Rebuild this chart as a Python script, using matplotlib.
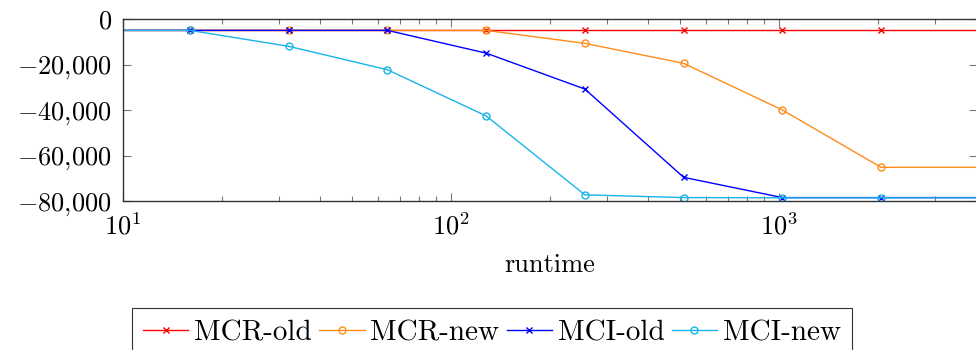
import matplotlib
matplotlib.use("Agg")
import matplotlib.pyplot as plt
from matplotlib.ticker import FuncFormatter, LogFormatterMathtext, LogLocator, FixedLocator

plt.rcParams["font.family"] = "serif"
plt.rcParams["font.serif"] = ["cmr10"]
plt.rcParams["mathtext.fontset"] = "cm"
plt.rcParams["axes.unicode_minus"] = False
plt.rcParams["axes.formatter.use_mathtext"] = True

runtime = [8, 16, 32, 64, 128, 256, 512, 1024, 2048, 4096]
mcr_old = [-5000, -5000, -5000, -5000, -5000, -5000, -5000, -5000, -5000, -5000]
mcr_new = [-5000, -5000, -5000, -5000, -5000, -10700, -19500, -40000, -65200, -65200]
mci_old = [-5000, -5000, -5000, -5000, -15000, -30800, -69600, -78500, -78500, -78500]
mci_new = [-5000, -5000, -12000, -22300, -42600, -77300, -78500, -78600, -78600, -78600]
y_ticks = [-80000, -60000, -40000, -20000, 0]

series = [
    ("MCR-old", mcr_old, "#ff0000", "x"),
    ("MCR-new", mcr_new, "#ff8c1a", "o"),
    ("MCI-old", mci_old, "#0000ff", "x"),
    ("MCI-new", mci_new, "#19b4eb", "o"),
]

fig = plt.figure(figsize=(9.76, 3.5), dpi=100)
ax = fig.add_axes([123 / 976, 1 - 201 / 350, (977 - 123) / 976, 182 / 350])

for label, vals, col, mk in series:
    ax.plot(runtime, vals, color=col, lw=1.0, marker=mk, markersize=5 if mk == "o" else 4,
            markerfacecolor="none", markeredgewidth=1.0, label=label)

ax.set_xscale("log")
ax.set_xlim(10, 10 ** (1 + (977 - 123) / 328))
ax.set_ylim(-80000, 0)

ax.yaxis.set_major_locator(FixedLocator(y_ticks))
ax.yaxis.set_major_formatter(FuncFormatter(
    lambda v, p: "$0$" if v == 0 else "$-%s$" % f"{int(abs(v)):,}".replace(",", "{,}")))
ax.xaxis.set_major_locator(LogLocator(base=10))
ax.xaxis.set_minor_locator(LogLocator(base=10, subs=range(2, 10)))
ax.xaxis.set_major_formatter(LogFormatterMathtext())
ax.xaxis.set_minor_formatter(FuncFormatter(lambda v, p: ""))

ax.tick_params(which="both", direction="in", top=True, right=True, labelsize=19, color="#777777")
ax.tick_params(which="major", length=6, width=0.8, pad=8)
ax.tick_params(which="minor", length=3.5, width=0.8)
for s in ax.spines.values():
    s.set_linewidth(1.0)
    s.set_color("#333333")

ax.set_xlabel("runtime", fontsize=19, labelpad=10)

handles, labels = ax.get_legend_handles_labels()
leg = fig.legend(handles, labels, loc="upper center", bbox_to_anchor=(492 / 976, 1 - 308 / 350),
                 ncol=4, fontsize=21, frameon=True, fancybox=False, edgecolor="black",
                 handlelength=1.55, handletextpad=0.2, columnspacing=0.25, borderpad=0.4,
                 borderaxespad=0)
leg.get_frame().set_linewidth(0.8)

plt.savefig("out.png", dpi=100)
